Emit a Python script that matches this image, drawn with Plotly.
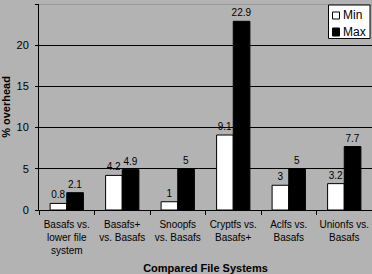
import plotly.graph_objects as go

categories = ["Basafs vs.<br>lower file<br>system", "Basafs+<br>vs. Basafs", "Snoopfs<br>vs. Basafs",
              "Cryptfs vs.<br>Basafs+", "Aclfs vs.<br>Basafs", "Unionfs vs.<br>Basafs"]
min_vals = [0.8, 4.2, 1, 9.1, 3, 3.2]
max_vals = [2.1, 4.9, 5, 22.9, 5, 7.7]
y_ticks = [0, 5, 10, 15, 20, 25]
series_names = ["Min", "Max"]

font = "Liberation Sans, Arial, sans-serif"
bg = "#B3B3B3"
W, H = 372, 274
L, R, T, B = 39, 0, 4, 64

fig = go.Figure()
fig.add_trace(go.Bar(name=series_names[0], x=categories, y=min_vals,
                     marker=dict(color="white", line=dict(color="black", width=1)),
                     text=[str(v) for v in min_vals], textposition="outside", cliponaxis=False,
                     constraintext="none", textfont=dict(size=10, color="black", family=font)))
fig.add_trace(go.Bar(name=series_names[1], x=categories, y=max_vals,
                     marker=dict(color="black", line=dict(color="black", width=1)),
                     text=[str(v) for v in max_vals], textposition="outside", cliponaxis=False,
                     constraintext="none", textfont=dict(size=10, color="black", family=font)))

pw, ph = W - L - R, H - T - B
def px(x):  # pixel -> paper x
    return (x - L) / pw
def py(y):  # pixel -> paper y
    return 1 - (y - T) / ph

shapes = [dict(type="line", xref="paper", yref="y", x0=0, x1=1, y0=25, y1=25,
               line=dict(color="#808080", width=1), layer="above"),
          dict(type="rect", xref="paper", yref="paper", x0=px(328.5), x1=px(370), y0=py(5), y1=py(38.5),
               fillcolor="white", line=dict(color="black", width=1), layer="above"),
          dict(type="rect", xref="paper", yref="paper", x0=px(332.5), x1=px(339.5), y0=py(12), y1=py(19),
               fillcolor="white", line=dict(color="black", width=1), layer="above"),
          dict(type="rect", xref="paper", yref="paper", x0=px(332.5), x1=px(339.5), y0=py(28), y1=py(36),
               fillcolor="black", line=dict(color="black", width=1), layer="above")]
annotations = [dict(xref="paper", yref="paper", x=px(340.5), y=py(15.5), text=series_names[0], showarrow=False,
                    xanchor="left", yanchor="middle", font=dict(size=12, family=font, color="black")),
               dict(xref="paper", yref="paper", x=px(340.5), y=py(32), text=series_names[1], showarrow=False,
                    xanchor="left", yanchor="middle", font=dict(size=12, family=font, color="black"))]

fig.update_layout(
    width=W, height=H,
    margin=dict(l=L, r=R, t=T, b=B),
    paper_bgcolor=bg, plot_bgcolor=bg,
    barmode="group", bargap=0.4, bargroupgap=0,
    font=dict(family=font, size=10, color="black"),
    showlegend=False,
    uniformtext=dict(minsize=10, mode="show"),
    xaxis=dict(showline=True, linecolor="black", linewidth=1, ticks="outside", tickson="boundaries",
               ticklen=4, tickcolor="black", tickfont=dict(size=10), tickangle=0, automargin=False,
               ticklabelstandoff=5,
               title=dict(text="<b>Compared File Systems</b>", font=dict(size=11), standoff=9)),
    yaxis=dict(range=[0, 25], tickvals=y_ticks, showline=True, linecolor="black", linewidth=1,
               showgrid=True, gridcolor="black", gridwidth=1, ticks="outside", ticklen=3,
               tickcolor="black", tickfont=dict(size=11), zeroline=False, automargin=False,
               ticklabelstandoff=4,
               title=dict(text="<b>% overhead</b>", font=dict(size=11), standoff=6)),
    shapes=shapes, annotations=annotations,
)

fig.write_html("out.html")
